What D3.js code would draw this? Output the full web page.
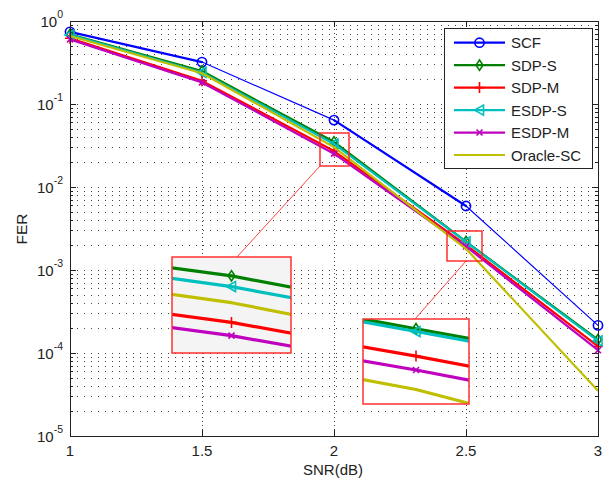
<!DOCTYPE html>
<html>
<head>
<meta charset="utf-8">
<script src="https://cdn.jsdelivr.net/npm/d3@7"></script>
<style>
  body { margin: 0; background: #fff; }
  svg { display: block; }
  text { font-family: "Liberation Sans", Arial, Helvetica, sans-serif; fill: #222; }
</style>
</head>
<body>
<svg id="chart" width="613" height="480"></svg>
<script>
// ---- data -------------------------------------------------------------
const snr = [1, 1.5, 2, 2.5, 3];

const scf      = [0.74, 0.32,  0.064,  0.0059,  2.15e-4];
const sdpS     = [0.69, 0.25,  0.035,  0.0022,  1.45e-4];
const sdpM     = [0.62, 0.19,  0.0271, 0.00201, 1.2e-4];
const esdpS    = [0.68, 0.24,  0.033,  0.00218, 1.4e-4];
const esdpM    = [0.60, 0.182, 0.0252, 0.00192, 1.08e-4];
const oracleSC = [0.66, 0.235, 0.0302, 0.0018,  3.5e-5];

const seriesNames   = ["SCF", "SDP-S", "SDP-M", "ESDP-S", "ESDP-M", "Oracle-SC"];
const seriesValues  = [scf, sdpS, sdpM, esdpS, esdpM, oracleSC];

const xTickValues = [1, 1.5, 2, 2.5, 3];
const xTickLabels = ["1", "1.5", "2", "2.5", "3"];
const yExponents  = [0, -1, -2, -3, -4, -5];

// ---- styling ----------------------------------------------------------
const colors  = ["#0000ff", "#008000", "#ff0000", "#00bfbf", "#bf00bf", "#bfbf00"];
const markers = ["circle", "diamond", "plus", "triangleLeft", "cross", null];
// per-segment stroke widths of the SCF curve (the others use a constant width)
const scfSegWidths = [2.2, 1.2, 2.2, 1.2];

const series = seriesNames.map((name, i) => ({
  name, color: colors[i], marker: markers[i],
  points: snr.map((s, j) => ({ x: s, y: seriesValues[i][j] }))
}));

const markerPath = {
  circle: "M4.6,0A4.6,4.6 0 1,1 -4.6,0A4.6,4.6 0 1,1 4.6,0Z",
  diamond: "M0,-5.2L3.4,0L0,5.2L-3.4,0Z",
  plus: "M-5,0H5M0,-5.5V5.5",
  triangleLeft: "M-5,0L4,-5L4,5Z",
  cross: "M-3,-3L3,3M-3,3L3,-3"
};

const svg = d3.select("#chart");
const L = 70, R = 598, T = 21, B = 436;

const x = d3.scaleLinear().domain([1, 3]).range([L, R]);
const y = d3.scaleLog().domain([1e-5, 1]).range([B, T]);

// ---- grid -------------------------------------------------------------
const grid = svg.append("g").attr("stroke", "#444").attr("stroke-width", 1)
  .attr("shape-rendering", "crispEdges");
const yGridVals = [];
for (let e = -5; e < 0; e++) for (let m = 1; m <= 9; m++) {
  const v = m * Math.pow(10, e);
  if (v > 1e-5 && v < 1) yGridVals.push(v);
}
grid.selectAll("line.h").data(yGridVals).join("line").attr("class", "h")
  .attr("x1", L).attr("x2", R)
  .attr("y1", d => Math.round(y(d)) + 0.5).attr("y2", d => Math.round(y(d)) + 0.5)
  .attr("stroke-dasharray", "1,6");
grid.selectAll("line.v").data(xTickValues.slice(1, -1)).join("line").attr("class", "v")
  .attr("y1", T).attr("y2", B)
  .attr("x1", d => Math.round(x(d)) + 0.5).attr("x2", d => Math.round(x(d)) + 0.5)
  .attr("stroke-dasharray", "1,3");

// ---- ticks ------------------------------------------------------------
const ticks = svg.append("g").attr("stroke", "#222").attr("stroke-width", 1)
  .attr("shape-rendering", "crispEdges");
xTickValues.forEach(v => {
  const px = Math.round(x(v)) + 0.5;
  ticks.append("line").attr("x1", px).attr("x2", px).attr("y1", B).attr("y2", B - 6);
  ticks.append("line").attr("x1", px).attr("x2", px).attr("y1", T).attr("y2", T + 6);
});
yGridVals.concat([1, 1e-5]).forEach(v => {
  const py = Math.round(y(v)) + 0.5;
  const major = Math.abs(Math.log10(v) - Math.round(Math.log10(v))) < 1e-9;
  const len = major ? 6 : 3;
  ticks.append("line").attr("x1", L).attr("x2", L + len).attr("y1", py).attr("y2", py);
  ticks.append("line").attr("x1", R).attr("x2", R - len).attr("y1", py).attr("y2", py);
});

// ---- tick labels ------------------------------------------------------
const fontSize = 15;
svg.append("g").selectAll("text").data(xTickValues).join("text")
  .attr("x", d => x(d)).attr("y", 456).attr("text-anchor", "middle")
  .attr("font-size", fontSize).text((d, i) => xTickLabels[i]);

const yl = svg.append("g").selectAll("text").data(yExponents).join("text")
  .attr("x", 63).attr("y", d => y(Math.pow(10, d)) + 5.7)
  .attr("text-anchor", "end").attr("font-size", fontSize);
yl.append("tspan").text("10");
yl.append("tspan").attr("dy", -9).attr("font-size", 10.5).text(d => String(d).replace("-", "-"));

svg.append("text").attr("x", 333).attr("y", 475).attr("text-anchor", "middle")
  .attr("font-size", fontSize).text("SNR(dB)");
svg.append("text").attr("transform", "translate(26.5,229) rotate(-90)")
  .attr("text-anchor", "middle").attr("font-size", 15.5).text("FER");

// ---- curves -----------------------------------------------------------
const plot = svg.append("g");
function drawSeries(g, s, xs, ys, width, segWidths) {
  const line = d3.line().x(d => xs(d.x)).y(d => ys(d.y));
  if (segWidths) {
    d3.pairs(s.points).forEach((p, k) => {
      g.append("path").attr("d", line(p)).attr("fill", "none")
        .attr("stroke", s.color).attr("stroke-width", segWidths[k])
        .attr("stroke-linecap", "round");
    });
  } else {
    g.append("path").attr("d", line(s.points)).attr("fill", "none")
      .attr("stroke", s.color).attr("stroke-width", width)
      .attr("stroke-linejoin", "round");
  }
}
function drawMarkers(g, s, xs, ys, filter) {
  if (!s.marker) return;
  g.selectAll(null).data(s.points.filter(filter || (() => true))).join("path")
    .attr("transform", d => `translate(${xs(d.x)},${ys(d.y)})`)
    .attr("d", markerPath[s.marker]).attr("fill", "none")
    .attr("stroke", s.color).attr("stroke-width", 1.6);
}
series.forEach((s, i) => {
  drawSeries(plot, s, x, y, 2.2, i === 0 ? scfSegWidths : null);
  drawMarkers(plot, s, x, y);
});

// ---- axes box ---------------------------------------------------------
svg.append("rect").attr("x", L + 0.5).attr("y", T + 0.5)
  .attr("width", R - L).attr("height", B - T)
  .attr("fill", "none").attr("stroke", "#222").attr("stroke-width", 1.2)
  .attr("shape-rendering", "crispEdges");

// ---- zoomed insets ----------------------------------------------------
const insets = [
  { id: "z1", src: [320, 133, 29, 33], box: [172, 257, 119, 96], fill: "#f4f4f4",
    xd: [1.9887, 2.0113], yd: [0.02291, 0.03882], from: [320, 166], to: [237, 257] },
  { id: "z2", src: [447, 231, 35, 30], box: [363, 319, 106, 85], fill: "#ffffff",
    xd: [2.4942, 2.5058], yd: [0.001716, 0.002272], from: [466, 261], to: [415, 319] }
];
const defs = svg.append("defs");
insets.forEach(c => {
  const [bx, by, bw, bh] = c.box;
  svg.append("line").attr("x1", c.from[0]).attr("y1", c.from[1])
    .attr("x2", c.to[0]).attr("y2", c.to[1])
    .attr("stroke", "#ff4040").attr("stroke-width", 1);
  svg.append("rect").attr("x", c.src[0]).attr("y", c.src[1])
    .attr("width", c.src[2]).attr("height", c.src[3])
    .attr("fill", "none").attr("stroke", "#ff2020").attr("stroke-width", 1.4);

  defs.append("clipPath").attr("id", "clip-" + c.id).append("rect")
    .attr("x", bx).attr("y", by).attr("width", bw).attr("height", bh);
  svg.append("rect").attr("x", bx).attr("y", by).attr("width", bw).attr("height", bh)
    .attr("fill", c.fill);
  const xs = d3.scaleLinear().domain(c.xd).range([bx, bx + bw]);
  const ys = d3.scaleLog().domain(c.yd).range([by + bh, by]);
  const g = svg.append("g").attr("clip-path", `url(#clip-${c.id})`);
  series.forEach(s => {
    drawSeries(g, s, xs, ys, 3.2, null);
    drawMarkers(g, s, xs, ys, d => d.x >= c.xd[0] && d.x <= c.xd[1]);
  });
  svg.append("rect").attr("x", bx).attr("y", by).attr("width", bw).attr("height", bh)
    .attr("fill", "none").attr("stroke", "#ff3030").attr("stroke-width", 1.5);
});

// ---- legend -----------------------------------------------------------
const lg = svg.append("g");
lg.append("rect").attr("x", 444.5).attr("y", 28.5).attr("width", 148).attr("height", 140)
  .attr("fill", "#fff").attr("stroke", "#222").attr("stroke-width", 1)
  .attr("shape-rendering", "crispEdges");
const rowY = d3.scaleLinear().domain([0, series.length - 1]).range([42.7, 155]);
series.forEach((s, i) => {
  const ry = rowY(i);
  lg.append("line").attr("x1", 454).attr("x2", 505).attr("y1", ry).attr("y2", ry)
    .attr("stroke", s.color).attr("stroke-width", 2.2);
  if (s.marker) {
    lg.append("path").attr("transform", `translate(479.5,${ry})`)
      .attr("d", markerPath[s.marker]).attr("fill", "none")
      .attr("stroke", s.color).attr("stroke-width", 1.6);
  }
  lg.append("text").attr("x", 511).attr("y", ry + 5.5).attr("font-size", fontSize).text(s.name);
});
</script>
</body>
</html>
